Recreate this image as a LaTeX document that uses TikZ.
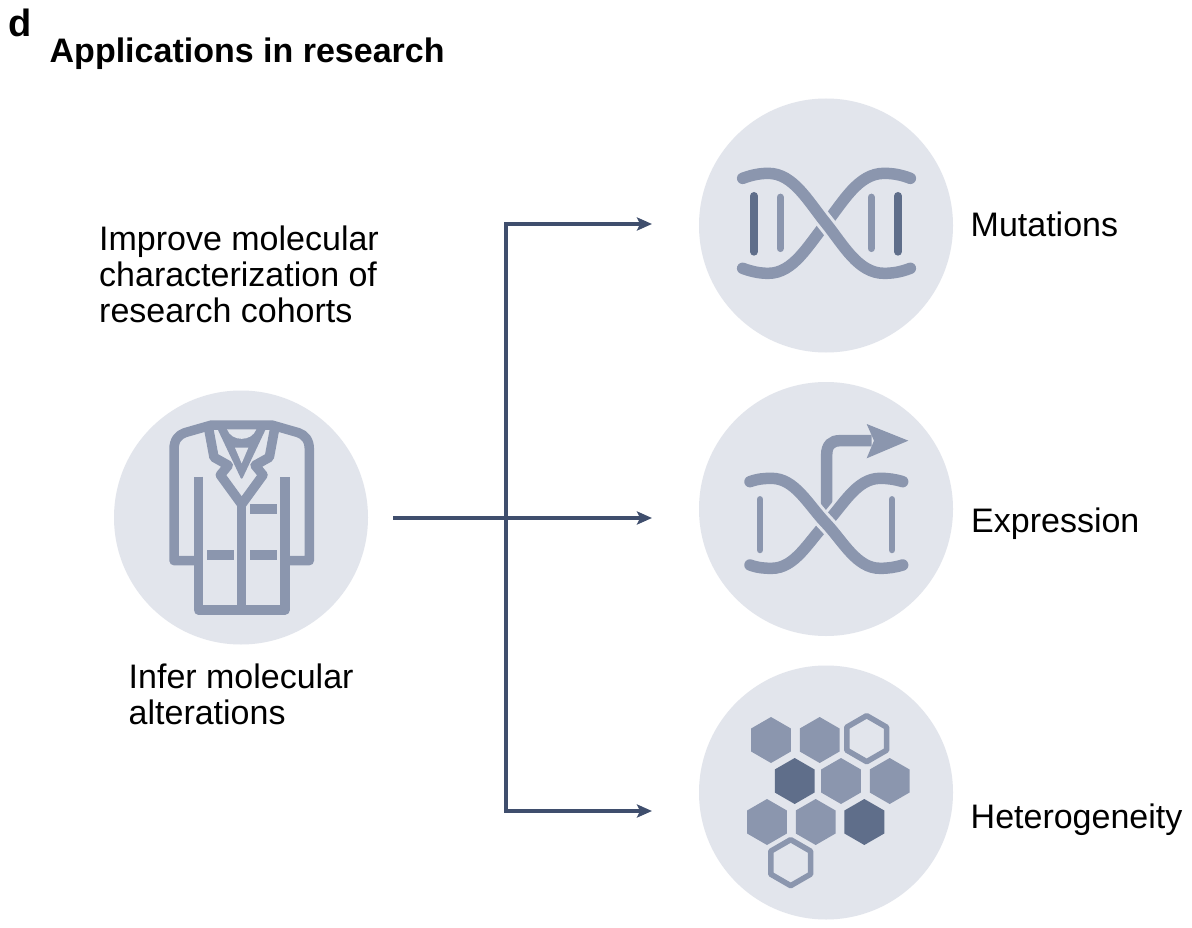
\documentclass[tikz,border=0pt]{standalone}
\usepackage{fontspec}
\setmainfont{Liberation Sans}
\usetikzlibrary{arrows.meta}
\definecolor{disc}{HTML}{E2E5EC}
\definecolor{icon}{HTML}{8B96AE}
\definecolor{icondark}{HTML}{5F6E8A}
\definecolor{conn}{HTML}{3F4E6D}
\tikzset{
 disc/.style={circle,fill=disc,minimum size=254pt,inner sep=0pt},
 label/.style={anchor=base west,inner sep=0pt,align=left,font=\fontsize{34}{36.5}\selectfont},
 connector/.style={draw=conn,line width=3.8pt,-{Stealth[length=15pt,width=13pt,inset=3pt]}},
 bus/.style={draw=conn,line width=3.8pt},
 coatline/.style={draw=icon,line width=9.5pt,line join=round},
 strand/.style={draw=icon,line width=11.5pt,line cap=round},
 halo/.style={draw=disc,line width=17.5pt},
 rung/.style={draw=icon,line width=7.5pt,line cap=round},
 rungdark/.style={draw=icondark,line width=8pt,line cap=round},
}
\newcommand{\hexat}[3]{(#1,#2)+(90:#3) -- +(150:#3) -- +(210:#3) -- +(270:#3) -- +(330:#3) -- +(30:#3) -- cycle}
\begin{document}
\begin{tikzpicture}[x=1pt,y=-1pt]
\path[use as bounding box,fill=white] (0,0) rectangle (1192,928);
% titles
\node[anchor=base west,inner sep=0pt,font=\fontsize{38}{38}\selectfont\bfseries] (panel) at (8,37) {d};
\node[anchor=base west,inner sep=0pt,font=\fontsize{34}{36}\selectfont\bfseries] (title) at (49.5,62.5) {Applications in research};
% discs
\node[disc] (coat) at (241,517.5) {};
\node[disc] (mut) at (826,225.5) {};
\node[disc] (expr) at (826,509) {};
\node[disc] (het) at (826,792.5) {};
% labels
\node[label] (improve) at (99,250.5) {Improve molecular};
\node[label] (improveb) at (99,286.5) {characterization of};
\node[label] (improvec) at (99,323) {research cohorts};
\node[label] (infer) at (128.5,688) {Infer molecular};
\node[label] (inferb) at (128.5,724) {alterations};
\node[label] (lmut) at (970.5,236.5) {Mutations};
\node[label] (lexpr) at (971,532) {Expression};
\node[label] (lhet) at (970.5,828.5) {Heterogeneity};
% connectors
\coordinate (start) at (393,518);
\coordinate (hub) at (506,518);
\coordinate (top) at (506,224);
\coordinate (bottom) at (506,811);
\coordinate (tmut) at (652,224);
\coordinate (texpr) at (652,518);
\coordinate (thet) at (652,811);
\draw[bus] ([yshift=1.9pt]top) -- ([yshift=-1.9pt]bottom);
\draw[connector] (start) -- (texpr);
\draw[connector] (top) -- (tmut);
\draw[connector] (bottom) -- (thet);
% lab coat
\begin{scope}[shift={(100,380)},scale=1/3]
 \draw[coatline] (295,542) -- (222,542) -- (222,208) .. controls (222,180) and (235,165) .. (255,158) -- (335,135) -- (515,135) -- (595,158) .. controls (615,165) and (628,180) .. (628,208) -- (628,542) -- (555,542);
 \draw[coatline,line cap=butt] (295,290) -- (295,690) -- (555,690) -- (555,290);
 \draw[coatline] (425,370) -- (425,690);
 \draw[coatline] (321,525) -- (402,525);
 \draw[coatline] (450,525) -- (531,525);
 \draw[coatline] (450,387) -- (531,387);
 \draw[coatline] (325,140) -- (342,232) -- (385,256) -- (361,285) -- (425,373) -- (489,285) -- (465,256) -- (508,232) -- (525,140);
 \fill[icon,draw=icon,line width=2pt,line join=round] (355,145) -- (495,145) -- (425,293) -- cycle;
 \fill[disc] (381,148) .. controls (395,186) and (455,186) .. (469,148) -- cycle;
 \fill[disc] (405,203) -- (445,203) -- (425,250) -- cycle;
\end{scope}
% mutations DNA
\begin{scope}[shift={(700,130)},scale=1/3]
 \draw[rungdark] (162,198) -- (162,365);
 \draw[rung] (241,202) -- (241,355);
 \draw[rung] (514,202) -- (514,355);
 \draw[rungdark] (594,198) -- (594,365);
 \draw[strand] (128,415) .. controls (160,427) and (185,430) .. (205,430) .. controls (280,430) and (325,345) .. (378,280) .. controls (430,215) and (475,130) .. (552,130) .. controls (575,130) and (600,133) .. (631,145);
 \draw[halo] (205,130) .. controls (280,130) and (325,215) .. (378,280) .. controls (430,345) and (475,430) .. (552,430);
 \draw[strand] (128,145) .. controls (160,133) and (185,130) .. (205,130) .. controls (280,130) and (325,215) .. (378,280) .. controls (430,345) and (475,430) .. (552,430) .. controls (575,430) and (600,427) .. (631,415);
\end{scope}
% expression DNA
\begin{scope}[shift={(700,400)},scale=1/3]
 \draw[rung,line width=6.5pt] (180,298) -- (180,450);
 \draw[rung,line width=6.5pt] (576,298) -- (576,450);
 \draw[draw=icon,line width=11.5pt] (380,340) -- (380,165) .. controls (380,135) and (395,122) .. (420,122) -- (515,122);
 \fill[icon] (500,72) -- (625,122) -- (500,175) -- (522,122) -- cycle;
 \draw[halo] (215,505) .. controls (285,505) and (325,425) .. (378,370) .. controls (430,315) and (470,235) .. (540,235);
 \draw[strand] (150,495) .. controls (175,504) and (195,505) .. (215,505) .. controls (285,505) and (325,425) .. (378,370) .. controls (430,315) and (470,235) .. (540,235) .. controls (565,235) and (585,238) .. (608,245);
 \draw[halo] (215,235) .. controls (285,235) and (325,315) .. (378,370) .. controls (430,425) and (470,505) .. (540,505);
 \draw[strand] (150,245) .. controls (175,236) and (195,235) .. (215,235) .. controls (285,235) and (325,315) .. (378,370) .. controls (430,425) and (470,505) .. (540,505) .. controls (565,505) and (585,502) .. (608,495);
\end{scope}
% heterogeneity
\begin{scope}[shift={(720,700)},scale=1/3]
 \fill[icon] \hexat{153}{120}{69};
 \fill[icon] \hexat{299}{120}{69};
 \draw[icon,line width=5.5pt,line join=round] \hexat{440}{116}{69};
 \fill[icondark] \hexat{224}{243}{69};
 \fill[icon] \hexat{363}{243}{69};
 \fill[icon] \hexat{509}{243}{69};
 \fill[icon] \hexat{141}{366}{69};
 \fill[icon] \hexat{287}{366}{69};
 \fill[icondark] \hexat{433}{366}{69};
 \draw[icon,line width=5.5pt,line join=round] \hexat{212}{488}{69};
\end{scope}
\end{tikzpicture}
\end{document}
